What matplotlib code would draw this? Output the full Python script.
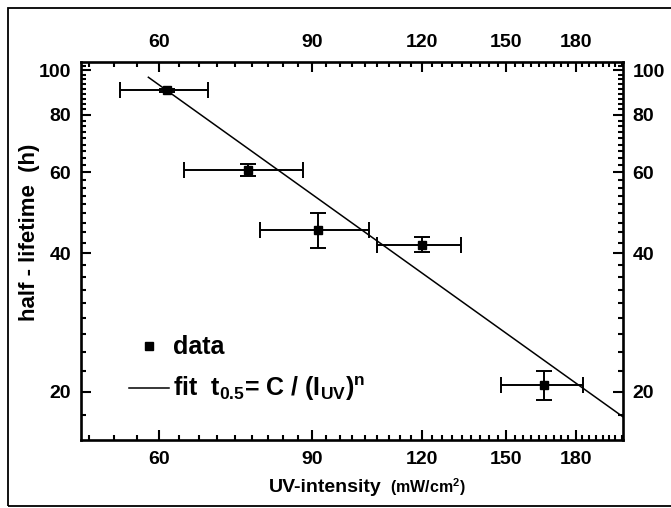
import numpy as np
import matplotlib
matplotlib.use('Agg')
import matplotlib.pyplot as plt
from matplotlib.ticker import FixedLocator, MultipleLocator, NullFormatter, FormatStrFormatter
from matplotlib.patches import Rectangle

# measured half-lifetime vs UV intensity
intensity = [61.3, 76.0, 91.4, 120.0, 165.8]          # mW/cm^2
intensity_err = [7.1, 11.8, 13.1, 13.2, 17.8]
half_life = [90.5, 60.7, 45.0, 41.8, 20.7]            # h
half_life_err = [0.6, 1.8, 3.9, 1.5, 1.5]

# power law fit t = C / I^n
fit_C = 24400
fit_n = 1.36
fit_range = [58.4, 204]

x_ticks = [60, 90, 120, 150, 180]
y_ticks = [20, 40, 60, 80, 100]

plt.rcParams['font.family'] = ['Liberation Sans', 'DejaVu Sans']
plt.rcParams['font.weight'] = 'bold'
plt.rcParams['mathtext.fontset'] = 'custom'
plt.rcParams['mathtext.rm'] = 'Liberation Sans:bold'
plt.rcParams['mathtext.it'] = 'Liberation Sans:bold'
plt.rcParams['mathtext.bf'] = 'Liberation Sans:bold'

fig = plt.figure(figsize=(6.71, 5.08), dpi=100)
ax = fig.add_axes([81/671, 1-440/508, 542/671, 378/508])

# outer frame
fig.patches.append(Rectangle((8/671, 2/508), 1.0, 1-10/508, transform=fig.transFigure,
                             fill=False, lw=1.3, ec='black', clip_on=False))

ax.set_xscale('log')
ax.set_yscale('log')

ax.errorbar(intensity, half_life, xerr=intensity_err, yerr=half_life_err, fmt='none',
            ecolor='black', elinewidth=1.4, capsize=6, capthick=1.4)
ax.plot(intensity, half_life, 's', color='black', ms=6, label='data')

xf = np.linspace(fit_range[0], fit_range[1], 200)
ax.plot(xf, fit_C / xf**fit_n, color='black', lw=1.1,
        label=r'fit  t$_{0.5}$= C / (I$_{UV}$)$^{n}$')

ax.set_xlim(48.9, 204)
ax.set_ylim(15.7, 104.3)

ax.xaxis.set_major_locator(FixedLocator(x_ticks))
ax.xaxis.set_minor_locator(MultipleLocator(30/9))
ax.yaxis.set_major_locator(FixedLocator(y_ticks))
ax.yaxis.set_minor_locator(MultipleLocator(20/9))
ax.xaxis.set_major_formatter(FormatStrFormatter('%d'))
ax.yaxis.set_major_formatter(FormatStrFormatter('%d'))
ax.xaxis.set_minor_formatter(NullFormatter())
ax.yaxis.set_minor_formatter(NullFormatter())

ax.tick_params(which='both', direction='in', top=True, right=True,
               labeltop=True, labelright=True, width=1.5, labelsize=14)
ax.tick_params(which='major', length=7)
ax.tick_params(which='minor', length=3.5)
ax.tick_params(axis='x', pad=8)
ax.tick_params(axis='y', pad=7)
for spine in ax.spines.values():
    spine.set_linewidth(1.9)

ax.set_ylabel('half - lifetime  (h)', fontsize=16, fontweight='bold')
ax.yaxis.set_label_coords(-0.076, 0.55)
ax.text(0.555, -0.125, 'UV-intensity', transform=ax.transAxes, ha='right', va='center',
        fontsize=14, fontweight='bold')
ax.text(0.571, -0.125, r'(mW/cm$^{2}$)', transform=ax.transAxes, ha='left', va='center',
        fontsize=11.5, fontweight='bold')

ax.legend(loc='upper left', bbox_to_anchor=(0.066, 0.31), frameon=False,
          borderpad=0, handlelength=1.6, handletextpad=0.15, labelspacing=0.62,
          prop={'size': 18, 'weight': 'bold'})

fig.savefig('out.png', dpi=100)
